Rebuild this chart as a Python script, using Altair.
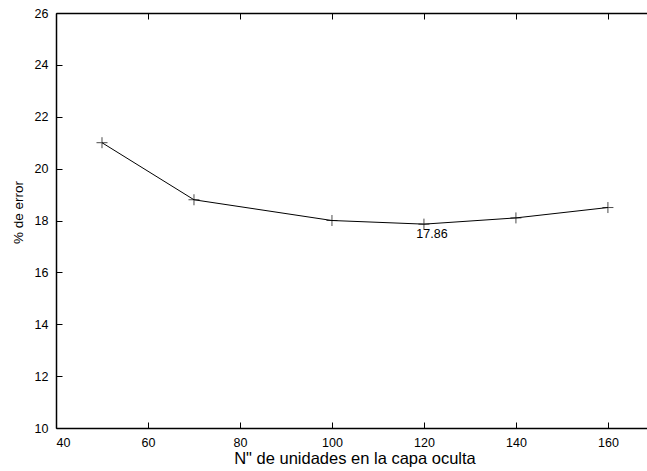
import altair as alt
import pandas as pd

# Hidden-layer size vs. error rate
hidden_units = [50, 70, 100, 120, 140, 160]
error_pct = [21.0, 18.8, 18.0, 17.86, 18.1, 18.5]

x_ticks = [40, 60, 80, 100, 120, 140, 160]
y_ticks = [10, 12, 14, 16, 18, 20, 22, 24, 26]

# the labelled minimum
best_units = [120]
best_error = [17.86]

W, H = 591, 415
FONT = "Liberation Sans"

df = pd.DataFrame({"units": hidden_units, "error": error_pct})
df_best = pd.DataFrame({"units": best_units, "error": best_error,
                        "label": [f"{v:.2f}" for v in best_error]})

x_scale = alt.Scale(domain=[40, 168.5], nice=False, zero=False)
y_scale = alt.Scale(domain=[10, 26], nice=False, zero=False)

# bottom axis: labels + bottom border
x_axis_main = alt.Axis(values=x_ticks, grid=False, ticks=False, domain=True,
                       domainColor="black", domainWidth=1.5,
                       labelFont=FONT, labelFontSize=12.5, labelColor="black",
                       labelPadding=8, title='N" de unidades en la capa oculta',
                       titleFont=FONT, titleFontSize=16.5, titleFontWeight="normal",
                       titleColor="black", titlePadding=2,
                       titleX=298.5, titleAlign="center")
# inward ticks along the bottom edge
x_axis_in_bottom = alt.Axis(orient="top", offset=-H, values=x_ticks, grid=False,
                            domain=False, labels=False, title=None,
                            tickColor="black", tickWidth=1, tickSize=6)
# inward ticks along the top edge + top border
x_axis_in_top = alt.Axis(orient="bottom", offset=-H, values=x_ticks, grid=False,
                         domain=True, domainColor="black", domainWidth=1.5,
                         labels=False, title=None,
                         tickColor="black", tickWidth=1, tickSize=6)

y_axis_main = alt.Axis(values=y_ticks, grid=False, ticks=False, domain=True,
                       domainColor="black", domainWidth=1.5,
                       labelFont=FONT, labelFontSize=12.5, labelColor="black",
                       labelPadding=8, title="% de error",
                       titleFont=FONT, titleFontSize=13.5, titleFontWeight="normal",
                       titleColor="black", titlePadding=9,
                       titleY=199, titleAlign="center")
y_axis_in_left = alt.Axis(orient="right", offset=-W, values=y_ticks, grid=False,
                          domain=False, labels=False, title=None,
                          tickColor="black", tickWidth=1, tickSize=6)

line = alt.Chart(df).mark_line(color="black", strokeWidth=1).encode(
    x=alt.X("units:Q", scale=x_scale, axis=x_axis_main),
    y=alt.Y("error:Q", scale=y_scale, axis=y_axis_main),
)

points = alt.Chart(df).mark_point(
    shape="M-1,0H1M0,-1V1", size=121, color="black", strokeWidth=1, filled=False
).encode(
    x=alt.X("units:Q", scale=x_scale, axis=x_axis_in_bottom),
    y=alt.Y("error:Q", scale=y_scale, axis=y_axis_in_left),
)

label = alt.Chart(df_best).mark_text(
    font=FONT, fontSize=12.5, color="black", align="center", baseline="top",
    dx=8, dy=4
).encode(
    x=alt.X("units:Q", scale=x_scale, axis=x_axis_in_top),
    y=alt.Y("error:Q", scale=y_scale, axis=None),
    text="label:N",
)

chart = (
    alt.layer(line, points, label)
    .resolve_axis(x="independent", y="independent")
    .properties(width=W, height=H,
                autosize=alt.AutoSizeParams(type="none"),
                padding={"left": 56, "top": 13, "right": 0, "bottom": 43},
                background="white")
    .configure_view(stroke=None)
)

chart.save("out.html", embed_options={"renderer": "svg", "actions": False})
